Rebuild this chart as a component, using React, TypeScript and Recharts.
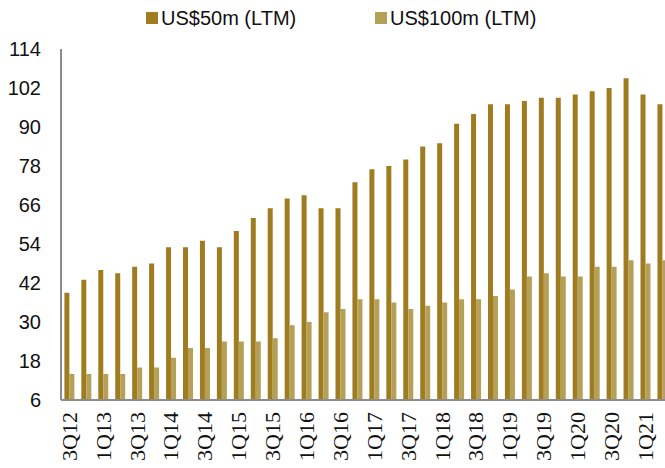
import React from 'react';
import { BarChart, Bar, XAxis, YAxis, Legend } from 'recharts';

const quarters = [
  '3Q12', '4Q12', '1Q13', '2Q13', '3Q13', '4Q13', '1Q14', '2Q14', '3Q14', '4Q14',
  '1Q15', '2Q15', '3Q15', '4Q15', '1Q16', '2Q16', '3Q16', '4Q16', '1Q17', '2Q17',
  '3Q17', '4Q17', '1Q18', '2Q18', '3Q18', '4Q18', '1Q19', '2Q19', '3Q19', '4Q19',
  '1Q20', '2Q20', '3Q20', '4Q20', '1Q21', '2Q21',
];

const us50m = [
  39, 43, 46, 45, 47, 48, 53, 53, 55, 53,
  58, 62, 65, 68, 69, 65, 65, 73, 77, 78,
  80, 84, 85, 91, 94, 97, 97, 98, 99, 99,
  100, 101, 102, 105, 100, 97,
];

const us100m = [
  14, 14, 14, 14, 16, 16, 19, 22, 22, 24,
  24, 24, 25, 29, 30, 33, 34, 37, 37, 36,
  34, 35, 36, 37, 37, 38, 40, 44, 45, 44,
  44, 47, 47, 49, 48, 49,
];

const yTicks = [6, 18, 30, 42, 54, 66, 78, 90, 102, 114];

const seriesNames = ['US$50m (LTM)', 'US$100m (LTM)'];
const colors = ['#9E7C1F', '#B4A057'];

const data = quarters.map((q, i) => ({ q, a: us50m[i], b: us100m[i] }));

const XTick = (props: any) => {
  const { x, y, payload } = props;
  return (
    <text
      x={x}
      y={y}
      transform={`rotate(-90, ${x}, ${y})`}
      textAnchor="end"
      dy="0.33em"
      fontFamily="'Liberation Serif', serif"
      fontSize={22}
      fill="#111"
    >
      {payload.value}
    </text>
  );
};

const LegendContent = () => {
  const item = (left: number, color: string, label: string) => (
    <div style={{ position: 'absolute', left, top: 0, display: 'flex', alignItems: 'center', height: 36, whiteSpace: 'nowrap' }}>
      <span style={{ display: 'inline-block', width: 12, height: 12, background: color, marginRight: 3 }} />
      <span style={{ fontFamily: "'Liberation Sans', Arial, sans-serif", fontSize: 20, color: '#111', lineHeight: '20px' }}>{label}</span>
    </div>
  );
  return (
    <div style={{ position: 'relative', width: 665, height: 36 }}>
      {item(146, colors[0], seriesNames[0])}
      {item(375, colors[1], seriesNames[1])}
    </div>
  );
};

export default function App() {
  return (
    <div style={{ position: 'absolute', left: 0, top: 0, width: 665, height: 468, overflow: 'hidden', background: '#fff' }}>
      <BarChart
        width={680}
        height={468}
        data={data}
        margin={{ top: 49, right: 9, bottom: 0, left: 0 }}
        barCategoryGap="20%"
        barGap={0}
      >
        <XAxis
          dataKey="q"
          interval={1}
          height={68}
          tickSize={0}
          tickMargin={12}
          tickLine={false}
          axisLine={{ stroke: '#8C8C8C', strokeWidth: 2 }}
          tick={<XTick />}
        />
        <YAxis
          width={61}
          domain={[6, 114]}
          ticks={yTicks}
          interval={0}
          tickSize={0}
          tickMargin={20}
          tickLine={false}
          axisLine={{ stroke: '#8C8C8C', strokeWidth: 2 }}
          tick={{ fontFamily: "'Liberation Sans', Arial, sans-serif", fontSize: 20, fill: '#111' }}
        />
        <Legend
          layout="horizontal"
          verticalAlign="middle"
          align="center"
          wrapperStyle={{ top: 0, left: 0, width: 665, height: 36 }}
          content={<LegendContent />}
        />
        <Bar dataKey="a" name={seriesNames[0]} fill={colors[0]} isAnimationActive={false} />
        <Bar dataKey="b" name={seriesNames[1]} fill={colors[1]} isAnimationActive={false} />
      </BarChart>
    </div>
  );
}
